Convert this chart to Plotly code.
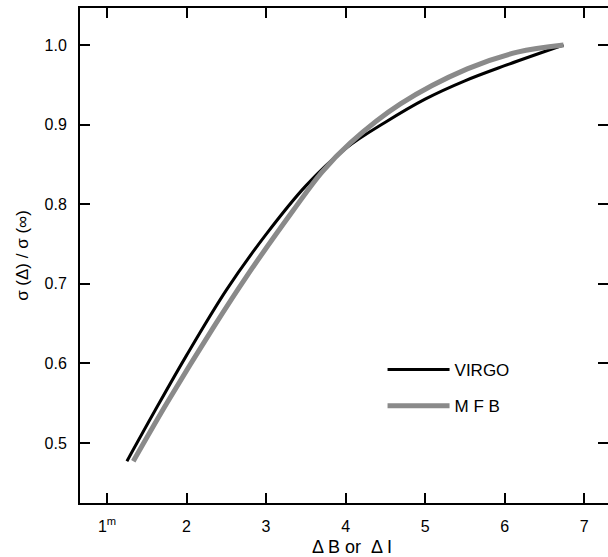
import plotly.graph_objects as go

# VIRGO curve
virgo_x = [1.25, 1.60, 2.00, 2.50, 3.00, 3.50, 4.00, 4.50, 5.00, 5.50, 6.00, 6.74]
virgo_y = [0.477, 0.540, 0.610, 0.692, 0.762, 0.823, 0.870, 0.903, 0.932, 0.955, 0.974, 1.000]

# MFB curve
mfb_x = [1.33, 1.77, 2.33, 2.76, 3.34, 3.70, 4.06, 4.69, 5.53, 6.16, 6.74]
mfb_y = [0.477, 0.553, 0.644, 0.710, 0.792, 0.840, 0.877, 0.926, 0.970, 0.991, 1.000]

x_ticks = [1, 2, 3, 4, 5, 6, 7]
x_ticktext = ["1<sup>m</sup>", "2", "3", "4", "5", "6", "7"]
y_ticks = [0.5, 0.6, 0.7, 0.8, 0.9, 1.0]
x_title = "Δ B or\u00a0\u00a0Δ I"
y_title = "σ (Δ) / σ (∞)"

FONT = "Liberation Sans, Arial, Helvetica, sans-serif"

fig = go.Figure()
fig.add_trace(go.Scatter(x=virgo_x, y=virgo_y, mode="lines", name="VIRGO",
                         legendgroup="a",
                         line=dict(color="black", width=3, shape="spline", smoothing=1)))
fig.add_trace(go.Scatter(x=mfb_x, y=mfb_y, mode="lines", name="M F B",
                         legendgroup="b",
                         line=dict(color="#8a8a8a", width=5, shape="spline", smoothing=1)))
# invisible trace for right-side ticks
fig.add_trace(go.Scatter(x=[virgo_x[0]], y=[virgo_y[0]], yaxis="y2", mode="lines",
                         showlegend=False, hoverinfo="skip",
                         line=dict(color="rgba(0,0,0,0)")))

fig.add_annotation(text=x_title, xref="paper", yref="paper", x=0.515, y=-0.089,
                   xanchor="center", yanchor="middle", showarrow=False,
                   font=dict(size=18))

fig.update_layout(
    width=608, height=557,
    margin=dict(l=80, r=0, t=8, b=54),
    plot_bgcolor="white", paper_bgcolor="white",
    font=dict(family=FONT, size=16, color="black"),
    showlegend=True,
    legend=dict(x=0.573, y=0.305, xanchor="left", yanchor="top",
                bgcolor="rgba(0,0,0,0)", tracegroupgap=11,
                itemwidth=62, font=dict(size=17)),
    xaxis=dict(range=[0.66, 7.30], tickvals=x_ticks, ticktext=x_ticktext,
               ticks="inside", ticklen=10, tickwidth=2, tickcolor="black",
               showline=True, linewidth=2, linecolor="black", mirror="ticks",
               showgrid=False, zeroline=False, ticklabelstandoff=8),
    yaxis=dict(range=[0.4245, 1.0465], tickvals=y_ticks, tickformat=".1f",
               ticks="inside", ticklen=10, tickwidth=2, tickcolor="black",
               showline=True, linewidth=2, linecolor="black",
               showgrid=False, zeroline=False, ticklabelstandoff=8,
               title=dict(text=y_title, standoff=12, font=dict(size=17))),
    yaxis2=dict(range=[0.4245, 1.0465], tickvals=y_ticks, overlaying="y", side="right",
                ticks="inside", ticklen=10, tickwidth=2, tickcolor="black",
                showticklabels=False, showline=False, showgrid=False, zeroline=False),
)

fig.write_html("out.html")
